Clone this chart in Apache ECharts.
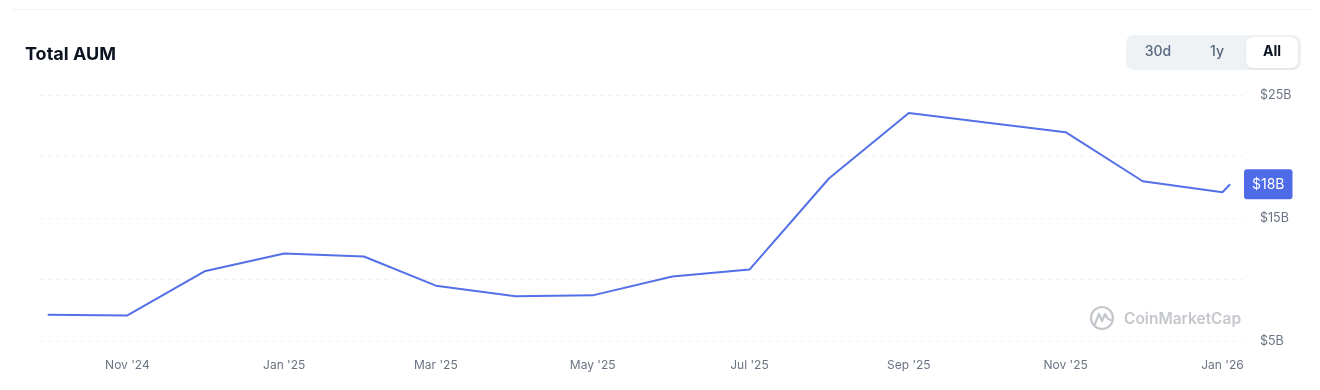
<!DOCTYPE html>
<html>
<head>
<meta charset="utf-8">
<script src="https://cdn.jsdelivr.net/npm/echarts@6/dist/echarts.min.js"></script>
<style>
  html, body { margin: 0; padding: 0; background: #ffffff; }
  #chart { width: 1320px; height: 390px; }
</style>
</head>
<body>
<div id="chart"></div>
<script>
// ---- data ----
const dates = ['2024-10-01','2024-11-01','2024-12-01','2025-01-01','2025-02-01','2025-03-01',
               '2025-04-01','2025-05-01','2025-06-01','2025-07-01','2025-08-01','2025-09-01',
               '2025-10-01','2025-11-01','2025-12-01','2026-01-01','2026-01-04'];
const aumBillions = [7.14, 7.08, 10.67, 12.11, 11.87, 9.50,
                     8.64, 8.71, 10.24, 10.81, 18.23, 23.53,
                     22.76, 21.98, 17.99, 17.09, 17.74];
const yTicks = [5, 10, 15, 20, 25];
const yLabelled = [5, 15, 25];
const monthNames = ['Jan','Feb','Mar','Apr','May','Jun','Jul','Aug','Sep','Oct','Nov','Dec'];
const rangeButtons = ['30d', '1y', 'All'];

const FONT = 'Inter, "Noto Sans", sans-serif';
const seriesData = dates.map((d, i) => [d, aumBillions[i]]);
const lastVal = aumBillions[aumBillions.length - 1];

const chart = echarts.init(document.getElementById('chart'), null, { renderer: 'canvas' });

chart.setOption({
  backgroundColor: '#ffffff',
  animation: false,
  title: {
    text: 'Total AUM',
    left: 20, top: 41,
    textStyle: { fontFamily: FONT, fontSize: 18, fontWeight: 700, color: '#0d1421' }
  },
  grid: { left: 40, right: 77, top: 95, bottom: 49 },
  xAxis: {
    type: 'time',
    min: '2024-09-28',
    max: '2026-01-09',
    splitNumber: 16,
    axisLine: { show: false },
    axisTick: { show: false },
    splitLine: { show: false },
    axisLabel: {
      margin: 18,
      color: '#6a7382',
      fontFamily: FONT,
      fontSize: 12,
      hideOverlap: false,
      formatter: function (v) {
        const d = new Date(v);
        if (d.getDate() !== 1 || d.getMonth() % 2 !== 0) return '';
        return monthNames[d.getMonth()] + " '" + String(d.getFullYear()).slice(2);
      }
    }
  },
  yAxis: {
    type: 'value',
    position: 'right',
    min: yTicks[0],
    max: yTicks[yTicks.length - 1],
    interval: 5,
    axisLine: { show: false },
    axisTick: { show: false },
    splitLine: { show: true, lineStyle: { color: '#f3f4f5', type: [4, 4], width: 1 } },
    axisLabel: {
      margin: 17,
      color: '#6a7382',
      fontFamily: FONT,
      fontSize: 12.5,
      padding: [3, 0, 0, 0],
      formatter: function (v) { return yLabelled.indexOf(v) >= 0 ? '$' + v + 'B' : ''; }
    }
  },
  series: [{
    type: 'line',
    data: seriesData,
    showSymbol: false,
    lineStyle: { color: '#5470e6', width: 2 },
    itemStyle: { color: '#5470e6' },
    markLine: {
      silent: true,
      symbol: ['none', 'none'],
      animation: false,
      lineStyle: { color: 'rgba(0,0,0,0)', width: 0, type: 'solid' },
      data: [{ yAxis: lastVal }],
      label: {
        show: true,
        position: 'end',
        distance: 1,
        formatter: '$' + Math.round(lastVal) + 'B',
        color: '#ffffff',
        backgroundColor: '#4f6be8',
        borderRadius: 3,
        padding: [8, 8, 8, 8],
        fontFamily: FONT,
        fontSize: 14
      }
    }
  }],
  graphic: [
    { type: 'line', shape: { x1: 12, y1: 9.5, x2: 1312, y2: 9.5 }, style: { stroke: '#f1f2f3', lineWidth: 1 }, silent: true },
    // range button group
    { type: 'rect', shape: { x: 1126, y: 35, width: 175, height: 35, r: 8 }, style: { fill: '#eff2f5' }, silent: true },
    { type: 'rect', shape: { x: 1246, y: 37, width: 52, height: 31, r: 7 },
      style: { fill: '#ffffff', shadowBlur: 3, shadowColor: 'rgba(0,0,0,0.08)', shadowOffsetY: 1 }, silent: true },
    { type: 'text', x: 1158, y: 52, style: { text: rangeButtons[0], fill: '#58667e', font: '500 14px ' + FONT, align: 'center', verticalAlign: 'middle' }, silent: true },
    { type: 'text', x: 1217, y: 52, style: { text: rangeButtons[1], fill: '#58667e', font: '500 14px ' + FONT, align: 'center', verticalAlign: 'middle' }, silent: true },
    { type: 'text', x: 1272, y: 52, style: { text: rangeButtons[2], fill: '#0d1421', font: '700 14px ' + FONT, align: 'center', verticalAlign: 'middle' }, silent: true },
    // watermark
    { type: 'circle', shape: { cx: 1102, cy: 318, r: 11 }, style: { fill: 'none', stroke: '#c4c7cc', lineWidth: 2.2 }, silent: true },
    { type: 'polyline', shape: { points: [[1095, 324], [1099, 314], [1102, 321], [1105, 314], [1108, 319], [1111, 320]] },
      style: { fill: 'none', stroke: '#c4c7cc', lineWidth: 2.2, lineJoin: 'round', lineCap: 'round' }, silent: true },
    { type: 'text', x: 1124, y: 319, style: { text: 'CoinMarketCap', fill: '#c4c7cc', font: '600 15.5px ' + FONT, align: 'left', verticalAlign: 'middle' }, silent: true }
  ]
});
</script>
</body>
</html>
